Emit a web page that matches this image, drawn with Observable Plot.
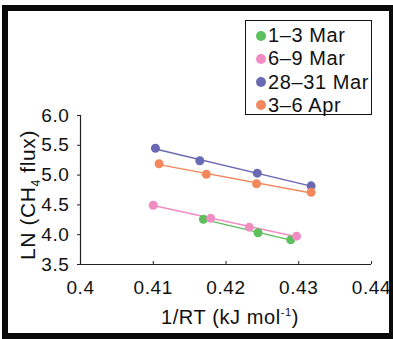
<!DOCTYPE html>
<html>
<head>
<meta charset="utf-8">
<script src="https://cdn.jsdelivr.net/npm/d3@7"></script>
<script src="https://cdn.jsdelivr.net/npm/@observablehq/plot@0.6"></script>
<style>
  html, body { margin: 0; padding: 0; background: #fff; }
  #wrap { position: relative; width: 393px; height: 339px; overflow: hidden; background: #fff; }
  #frame { position: absolute; left: 2px; top: 5px; width: 391px; height: 334px; box-sizing: border-box;
           border-style: solid; border-color: #0a0a0a; border-width: 6px 4px 6px 6px; pointer-events: none; }
  #legend { position: absolute; left: 245px; top: 20px; width: 127px; height: 95px; box-sizing: border-box;
            border: 1.5px solid #111; background: #fff; padding-top: 3px;
            font-family: "Liberation Sans", Arial, sans-serif; font-size: 20px; letter-spacing: 0.6px; color: #111; }
  .row { height: 23.3px; line-height: 23.3px; position: relative; padding-left: 22px; white-space: nowrap; }
  .sw { position: absolute; left: 10px; top: 6.5px; width: 10px; height: 10px; border-radius: 50%; }
</style>
</head>
<body>
<div id="wrap"><div id="chart"></div><div id="legend"></div><div id="frame"></div></div>
<script>
// Series names and colours
const seriesNames = ["1–3 Mar", "6–9 Mar", "28–31 Mar", "3–6 Apr"];
const seriesColors = ["#5cc05e", "#f28dc3", "#6a6ab4", "#f3885e"];

// Data: 1/RT (x) and LN(CH4 flux) (y)
const x_1_3Mar = [0.4169, 0.4244, 0.4289];
const y_1_3Mar = [4.260, 4.032, 3.914];
const x_6_9Mar = [0.4100, 0.4179, 0.4232, 0.4297];
const y_6_9Mar = [4.495, 4.277, 4.126, 3.975];
const x_28_31Mar = [0.4103, 0.4164, 0.4243, 0.4317];
const y_28_31Mar = [5.451, 5.240, 5.032, 4.820];
const x_3_6Apr = [0.4108, 0.4173, 0.4242, 0.4317];
const y_3_6Apr = [5.190, 5.015, 4.854, 4.713];

// Axis ticks
const xTicks = [0.40, 0.41, 0.42, 0.43, 0.44];
const xTickLabels = ["0.4", "0.41", "0.42", "0.43", "0.44"];
const yTicks = [3.5, 4.0, 4.5, 5.0, 5.5, 6.0];
const yTickLabels = ["3.5", "4.0", "4.5", "5.0", "5.5", "6.0"];
const xLabel = "1/RT (kJ mol-1)";
const yLabel = "LN (CH4 flux)";

const seriesX = [x_1_3Mar, x_6_9Mar, x_28_31Mar, x_3_6Apr];
const seriesY = [y_1_3Mar, y_6_9Mar, y_28_31Mar, y_3_6Apr];
const data = [];
seriesNames.forEach((s, i) => seriesX[i].forEach((xv, j) => data.push({series: s, x: xv, y: seriesY[i][j]})));

const chart = Plot.plot({
  width: 393,
  height: 339,
  marginLeft: 80,
  marginRight: 22,
  marginTop: 115,
  marginBottom: 75,
  style: {fontFamily: "'Liberation Sans', Arial, sans-serif", letterSpacing: "0.6px", color: "#111", background: "transparent"},
  x: {domain: [0.4, 0.44], axis: null},
  y: {domain: [3.5, 6.0], axis: null},
  color: {domain: seriesNames, range: seriesColors},
  marks: [
    Plot.ruleX([xTicks[0]], {stroke: "#222", strokeWidth: 1.2}),
    Plot.ruleY([yTicks[0]], {stroke: "#222", strokeWidth: 1.2}),
    Plot.axisX({ticks: xTicks, tickFormat: (d) => xTickLabels[xTicks.indexOf(d)], tickSize: -3, tickPadding: 19, fontSize: 19, label: null, stroke: "#222"}),
    Plot.axisY({ticks: yTicks, tickFormat: (d) => yTickLabels[yTicks.indexOf(d)], tickSize: 3, tickPadding: 8, fontSize: 19, label: null, stroke: "#222"}),
    Plot.linearRegressionY(data, {x: "x", y: "y", z: "series", stroke: "series", ci: 0, strokeWidth: 1.5}),
    Plot.dot(data, {x: "x", y: "y", fill: "series", r: 4.5}),
    Plot.text([yLabel], {frameAnchor: "left", textAnchor: "middle", lineAnchor: "middle", rotate: -90, dx: -52, dy: 5, fontSize: 21, fill: "#111"}),
    Plot.text([xLabel], {frameAnchor: "bottom", textAnchor: "middle", lineAnchor: "middle", dx: 4, dy: 53, fontSize: 20, fill: "#111"})
  ]
});
document.getElementById("chart").appendChild(chart);

// Subscript / superscript formatting of the axis titles
chart.querySelectorAll("text").forEach(t => {
  if (t.textContent === yLabel) {
    t.innerHTML = 'LN (CH<tspan dy="5" font-size="12">4</tspan><tspan dy="-5"> flux)</tspan>';
  } else if (t.textContent === xLabel) {
    t.innerHTML = '1/RT (kJ mol<tspan dy="-8" font-size="11">-1</tspan><tspan dy="8">)</tspan>';
  }
});

// Legend
const legend = document.getElementById("legend");
seriesNames.forEach((s, i) => {
  const row = document.createElement("div");
  row.className = "row";
  const sw = document.createElement("span");
  sw.className = "sw";
  sw.style.background = seriesColors[i];
  row.appendChild(sw);
  row.appendChild(document.createTextNode(s));
  legend.appendChild(row);
});
</script>
</body>
</html>
